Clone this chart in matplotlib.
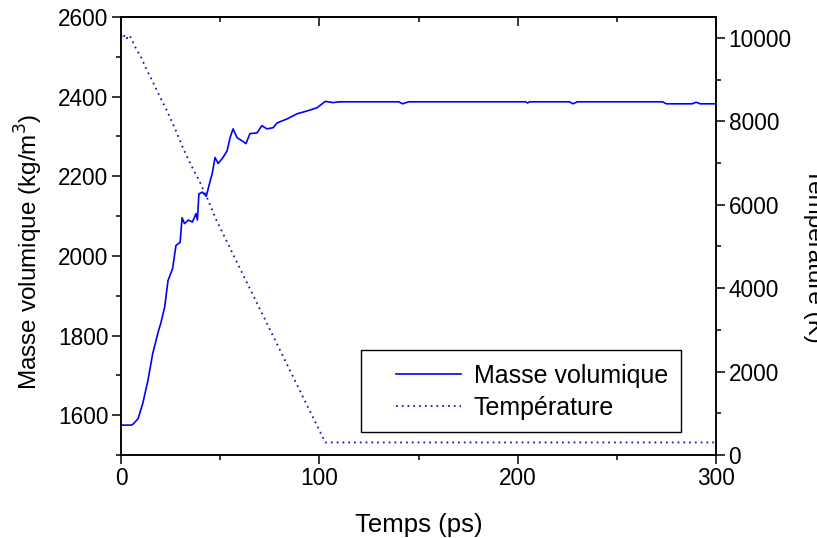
import matplotlib
matplotlib.use("Agg")
import matplotlib.pyplot as plt
from matplotlib.patches import Rectangle
from matplotlib.ticker import MultipleLocator

plt.rcParams['font.family'] = ['Liberation Sans', 'DejaVu Sans']

# density (kg/m3) versus time (ps)
dens_t = [0, 2, 5, 6, 8.6, 11, 13.6, 16, 18.7, 20, 22, 23.7, 26, 27.7, 29.8,
          30.8, 32, 34, 36, 37.8, 38.5, 39.3, 41, 43, 45, 46, 47.4, 49, 51.4,
          53.5, 55, 56.5, 58.5, 61, 63, 65, 68.6, 71, 73.6, 76.7, 78.7, 83.7,
          88.8, 93.8, 98.8, 103, 107, 110, 120, 140, 142, 145, 204, 205, 206,
          226, 228, 230, 273, 275, 288, 290, 292, 300]
dens_v = [1575, 1575, 1575, 1577, 1591, 1630, 1688, 1755, 1808, 1830, 1871,
          1938, 1968, 2026, 2034, 2096, 2081, 2090, 2085, 2106, 2090, 2156,
          2160, 2150, 2189, 2207, 2247, 2232, 2247, 2264, 2297, 2319, 2297,
          2289, 2282, 2307, 2309, 2327, 2319, 2322, 2334, 2344, 2357, 2364,
          2372, 2388, 2385, 2387, 2387, 2387, 2382, 2387, 2387, 2384, 2387,
          2387, 2382, 2387, 2387, 2382, 2382, 2386, 2382, 2382]

# temperature (K) versus time (ps)
temp_t = [0, 1, 2, 3, 4, 5, 6, 8, 10, 13, 16, 20, 23, 27, 31, 35, 40, 44, 48,
          60, 70, 80, 90, 103, 300]
temp_v = [10050, 9980, 10080, 9990, 10060, 10000, 9900, 9700, 9550, 9230,
          8950, 8550, 8270, 7850, 7390, 6980, 6520, 6100, 5640, 4470, 3500,
          2530, 1560, 300, 300]

fig = plt.figure(figsize=(8.17, 5.38), dpi=100)
ax = fig.add_axes([0.1481, 0.1543, 0.7283, 0.8141])
ax2 = ax.twinx()

l1, = ax.plot(dens_t, dens_v, '-', color='#0000ff', lw=1.2)
l2, = ax2.plot(temp_t, temp_v, color='#1a1ab0', lw=1.3, ls=(0, (1, 2.2)))

ax.set_xlim(0, 300)
ax.set_ylim(1500, 2600)
ax2.set_ylim(0, 10500)

ax.xaxis.set_major_locator(MultipleLocator(100))
ax.xaxis.set_minor_locator(MultipleLocator(50))
ax.yaxis.set_major_locator(MultipleLocator(200))
ax.yaxis.set_minor_locator(MultipleLocator(100))
ax2.yaxis.set_major_locator(MultipleLocator(2000))
ax2.yaxis.set_minor_locator(MultipleLocator(1000))

for a in (ax, ax2):
    for s in a.spines.values():
        s.set_linewidth(1.1)
    a.tick_params(which='major', length=6.5, width=1.1, labelsize=16.3, pad=2.5)
    a.tick_params(which='minor', length=3.6, width=1.1)

ax.tick_params(axis='both', which='both', direction='out')
ax2.tick_params(axis='y', which='both', direction='out')

# top axis: inward ticks, no labels
top = ax.secondary_xaxis('top')
top.xaxis.set_major_locator(MultipleLocator(100))
top.xaxis.set_minor_locator(MultipleLocator(50))
top.tick_params(which='both', direction='in', labeltop=False, width=1.1)
top.tick_params(which='major', length=6.5)
top.tick_params(which='minor', length=3.6)
top.spines['top'].set_linewidth(1.1)

ax.set_xlabel('Temps (ps)', fontsize=18.5, labelpad=16)
ax.set_ylabel('Masse volumique (kg/m$^3$)', fontsize=17.5)
ax.yaxis.set_label_coords(-0.127, 0.463)
fig.text(803 / 817, 1 - 255 / 538, 'Température (K)', fontsize=17.5,
         rotation=270, ha='left', va='center')

# legend frame drawn separately, entries placed inside it
fig.patches.append(Rectangle((361 / 817, 1 - 432 / 538), 320 / 817, 82 / 538,
                             transform=fig.transFigure, fill=False,
                             edgecolor='black', lw=1.0, zorder=5))
leg = ax.legend([l1, l2], ['Masse volumique', 'Température'],
                loc='center left', bbox_to_anchor=((396 - 121) / 595, (455 - 392) / 438),
                fontsize=18, frameon=False, borderpad=0,
                handlelength=2.6, handletextpad=0.5, labelspacing=0.33,
                borderaxespad=0)

fig.savefig('out.png', dpi=100)
